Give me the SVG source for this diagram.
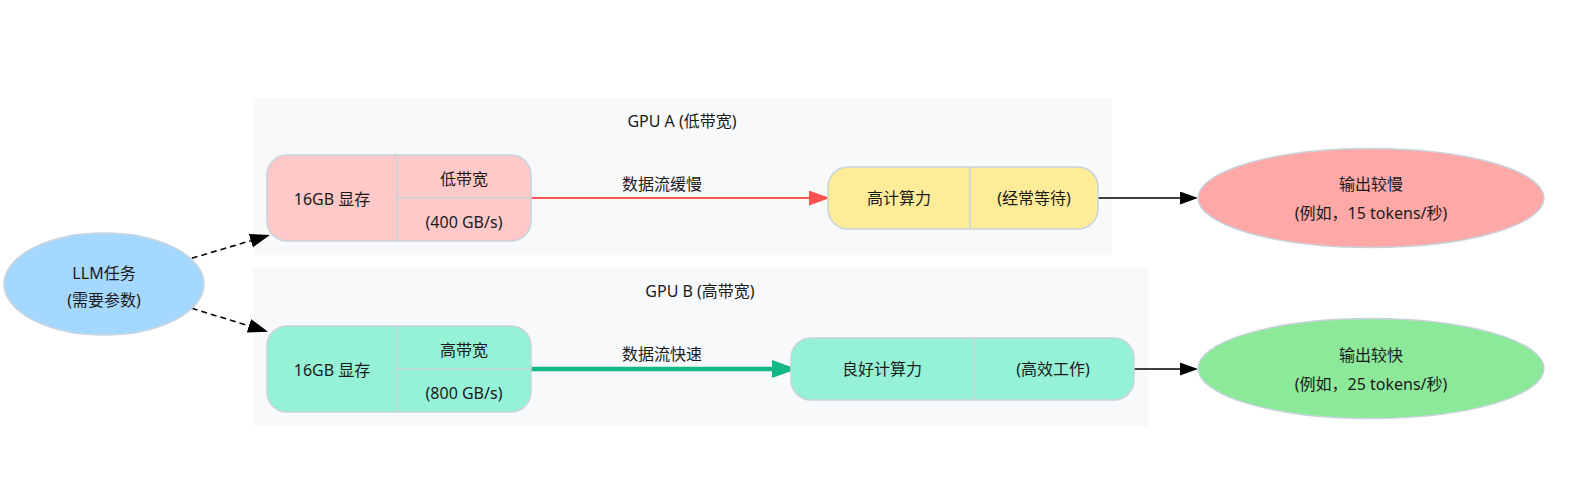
<svg xmlns="http://www.w3.org/2000/svg" width="1571" height="477" viewBox="0 0 1571 477">
<style>
text{font-family:"Noto Sans","Noto Sans CJK SC",sans-serif;font-size:16px;fill:#1a1a1a;text-anchor:middle}
.cluster{fill:#f8f9fa;stroke:none}
.nb{stroke:#c8d3dc;stroke-width:1.5}
.div{stroke:#c8d3dc;stroke-width:1.5;fill:none}
.pink{fill:#ffc9c9}.yellow{fill:#ffec99}.mint{fill:#96f2d7}
.blue{fill:#a5d8ff}.red{fill:#ffa8a8}.green{fill:#8ce99a}
</style>
<defs>
<marker id="mRed" markerUnits="userSpaceOnUse" markerWidth="22" markerHeight="16" refX="0" refY="7.5" orient="auto"><path d="M0,0 L21,7.5 L0,15 z" fill="#fa5252"/></marker>
<marker id="mGreen" markerUnits="userSpaceOnUse" markerWidth="26" markerHeight="19" refX="0" refY="9" orient="auto"><path d="M0,0 L25,9 L0,18 z" fill="#12b886"/></marker>
<marker id="mBlack" markerUnits="userSpaceOnUse" markerWidth="19" markerHeight="13" refX="0" refY="6.5" orient="auto"><path d="M0,0 L18,6.5 L0,13 z" fill="#000"/></marker>
<marker id="mDash" markerUnits="userSpaceOnUse" markerWidth="21" markerHeight="15" refX="0" refY="7" orient="auto"><path d="M0,0 L20,7 L0,14 z" fill="#000"/></marker>
</defs>
<rect width="1571" height="477" fill="#ffffff"/>
<g id="clusterA"><rect class="cluster" x="253" y="98" width="859" height="157"/><text x="682" y="127">GPU A (低带宽)</text></g>
<g id="clusterB"><rect class="cluster" x="253" y="268" width="895" height="158"/><text x="700" y="297">GPU B (高带宽)</text></g>
<g id="connectors">
<path d="M191.7,258.3 L250.8,240.7" stroke="#000" stroke-width="1.6" stroke-dasharray="6,4" fill="none" marker-end="url(#mDash)"/>
<path d="M191.7,308.3 L248.9,325.8" stroke="#000" stroke-width="1.6" stroke-dasharray="6,4" fill="none" marker-end="url(#mDash)"/>
<path d="M531,198 L809,198" stroke="#fa5252" stroke-width="2" fill="none" marker-end="url(#mRed)"/>
<text x="662" y="190">数据流缓慢</text>
<path d="M531,369 L772,369" stroke="#12b886" stroke-width="4.5" fill="none" marker-end="url(#mGreen)"/>
<text x="662" y="360">数据流快速</text>
<path d="M1098,198 L1180,198" stroke="#000" stroke-width="1.6" fill="none" marker-end="url(#mBlack)"/>
<path d="M1134,369 L1180,369" stroke="#000" stroke-width="1.6" fill="none" marker-end="url(#mBlack)"/>
</g>
<g id="llm"><ellipse class="blue nb" cx="104" cy="284" rx="100" ry="51"/><text x="104" y="279">LLM任务</text><text x="104" y="306">(需要参数)</text></g>
<g id="gpuA_mem"><rect class="pink nb" x="267" y="155" width="264" height="86" rx="20"/><path class="div" d="M397,155 V241 M397,198 H531"/><text x="332" y="205">16GB 显存</text><text x="464" y="185">低带宽</text><text x="464" y="228">(400 GB/s)</text></g>
<g id="gpuA_comp"><rect class="yellow nb" x="828" y="167" width="270" height="62" rx="20"/><path class="div" d="M970,167 V229"/><text x="899" y="204">高计算力</text><text x="1034" y="204">(经常等待)</text></g>
<g id="gpuB_mem"><rect class="mint nb" x="267" y="326" width="264" height="86" rx="20"/><path class="div" d="M397,326 V412 M397,369 H531"/><text x="332" y="376">16GB 显存</text><text x="464" y="356">高带宽</text><text x="464" y="399">(800 GB/s)</text></g>
<g id="gpuB_comp"><rect class="mint nb" x="791" y="338" width="343" height="62" rx="20"/><path class="div" d="M974,338 V400"/><text x="882" y="375">良好计算力</text><text x="1053" y="375">(高效工作)</text></g>
<g id="outA"><ellipse class="red nb" cx="1371" cy="198" rx="173" ry="49.5"/><text x="1371" y="190">输出较慢</text><text x="1371" y="219">(例如，15 tokens/秒)</text></g>
<g id="outB"><ellipse class="green nb" cx="1371" cy="368.5" rx="173" ry="50"/><text x="1371" y="361">输出较快</text><text x="1371" y="390">(例如，25 tokens/秒)</text></g>
</svg>
